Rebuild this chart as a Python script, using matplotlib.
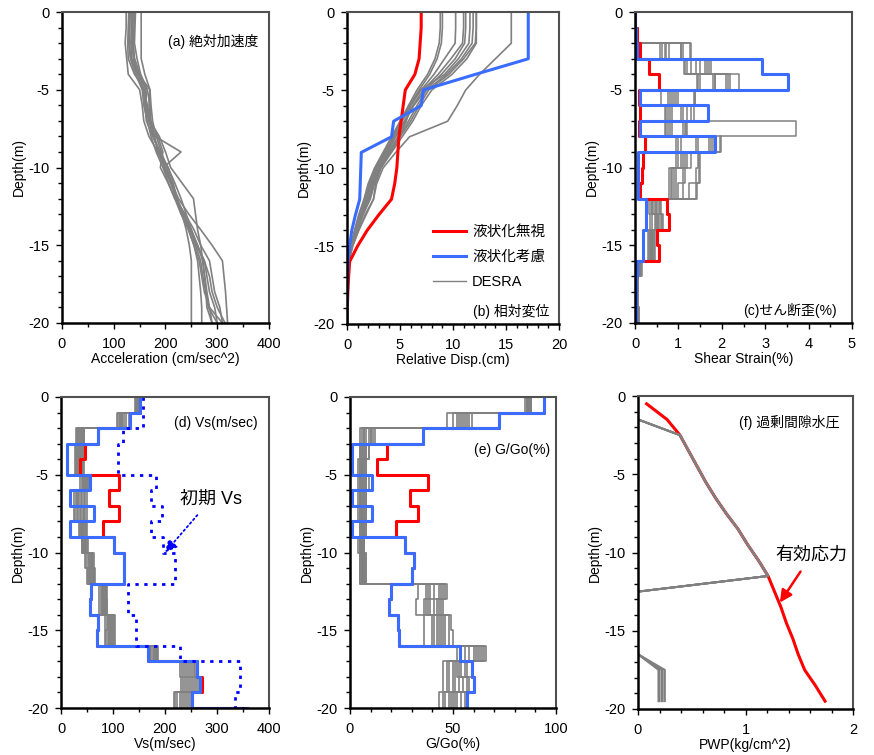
import numpy as np
import matplotlib
matplotlib.use('Agg')
import matplotlib.pyplot as plt
from matplotlib.ticker import MultipleLocator

plt.rcParams['font.family'] = ['Liberation Sans', 'Noto Sans CJK JP']
plt.rcParams['axes.unicode_minus'] = False

GRAY = '#808080'
RED = '#ff0000'
BLUE = '#3a6cff'

# depth nodes (m), 1 m layers
depth_nodes = [0, -1, -2, -3, -4, -5, -6, -7, -8, -9, -10, -11, -12, -13, -14, -15, -16, -17, -18, -19, -20]

# (a) absolute acceleration, DESRA runs (cm/sec^2) at depth_nodes
acc_desra = [
    [153, 153, 153, 153, 160, 170, 172, 175, 182, 192, 202, 212, 225, 245, 268, 290, 310, 313, 316, 318, 320],
    [124, 124, 122, 125, 128, 150, 155, 158, 168, 185, 198, 212, 222, 232, 240, 246, 250, 250, 250, 250, 250],
    [129, 128, 127, 128, 140, 160, 160, 163, 175, 190, 205, 215, 222, 232, 245, 255, 262, 265, 268, 270, 270],
    [132, 131, 130, 133, 145, 165, 160, 168, 180, 230, 196, 210, 222, 235, 250, 262, 272, 276, 280, 285, 290],
    [135, 134, 133, 135, 148, 170, 168, 170, 178, 188, 200, 212, 220, 232, 248, 262, 275, 280, 285, 295, 300],
    [138, 137, 136, 140, 150, 158, 165, 170, 185, 195, 190, 205, 218, 238, 255, 268, 285, 290, 295, 305, 310],
    [142, 141, 140, 145, 152, 165, 170, 172, 178, 185, 205, 218, 230, 240, 250, 260, 275, 285, 290, 300, 315],
    [140, 139, 138, 140, 150, 162, 163, 170, 188, 200, 210, 232, 254, 258, 262, 268, 272, 275, 278, 280, 290],
    [136, 136, 135, 138, 146, 156, 162, 168, 176, 188, 200, 210, 222, 236, 248, 258, 268, 272, 278, 283, 300],
    [130, 130, 129, 132, 142, 155, 158, 165, 172, 182, 195, 206, 218, 230, 244, 255, 265, 270, 275, 285, 310],
]

# (b) relative displacement (cm) at depth_nodes
disp_ignore = [7.0, 7.0, 6.9, 6.8, 6.4, 5.5, 5.3, 5.1, 4.9, 4.8, 4.7, 4.5, 4.2, 3.0, 1.9, 1.0, 0.25, 0.15, 0.08, 0.03, 0]
disp_liq = [17.1, 17.1, 17.1, 17.1, 12.1, 7.2, 7.0, 4.4, 4.2, 1.35, 1.3, 1.25, 1.2, 0.8, 0.45, 0.25, 0.1, 0.05, 0.02, 0, 0]
disp_desra = [
    [8.8, 8.8, 8.7, 8.3, 7.6, 6.6, 5.8, 5.0, 4.2, 3.4, 2.6, 2.0, 1.6, 1.1, 0.7, 0.35, 0.1, 0.03, 0.01, 0, 0],
    [9.0, 9.0, 8.9, 8.5, 7.8, 6.8, 5.9, 5.1, 4.3, 3.5, 2.7, 2.1, 1.7, 1.2, 0.75, 0.4, 0.12, 0.04, 0.01, 0, 0],
    [10.25, 10.25, 10.2, 9.2, 8.2, 7.0, 6.0, 5.2, 4.4, 3.6, 2.8, 2.2, 1.8, 1.2, 0.8, 0.4, 0.12, 0.04, 0.01, 0, 0],
    [11.0, 11.0, 10.9, 9.8, 8.6, 7.2, 6.2, 5.4, 4.5, 3.7, 2.9, 2.3, 1.9, 1.3, 0.85, 0.42, 0.13, 0.04, 0.01, 0, 0],
    [11.2, 11.2, 11.1, 10.2, 8.9, 7.4, 6.3, 5.5, 4.6, 3.8, 3.0, 2.4, 2.0, 1.4, 0.9, 0.45, 0.14, 0.04, 0.01, 0, 0],
    [11.6, 11.6, 11.5, 10.5, 9.2, 6.9, 6.0, 5.6, 4.8, 3.9, 3.1, 2.5, 2.1, 1.4, 0.9, 0.45, 0.14, 0.04, 0.01, 0, 0],
    [11.9, 11.9, 11.8, 10.8, 9.4, 7.5, 6.6, 5.8, 4.9, 4.0, 3.1, 2.5, 2.1, 1.5, 0.95, 0.48, 0.15, 0.05, 0.01, 0, 0],
    [12.2, 12.2, 12.1, 11.0, 9.6, 7.7, 6.8, 6.0, 5.0, 4.1, 3.2, 2.6, 2.2, 1.5, 1.0, 0.5, 0.15, 0.05, 0.01, 0, 0],
    [12.2, 12.2, 12.2, 11.3, 9.9, 8.0, 7.0, 6.2, 5.2, 4.2, 3.2, 2.7, 2.5, 1.7, 1.1, 0.55, 0.16, 0.05, 0.01, 0, 0],
    [15.5, 15.5, 15.5, 14.0, 12.5, 11.2, 10.4, 9.5, 5.9, 4.6, 3.4, 2.8, 2.5, 1.8, 1.1, 0.5, 0.15, 0.05, 0.01, 0, 0],
]

# (c) shear strain (%) per layer (0-1 m ... 19-20 m)
strain_ignore = [0.01, 0.05, 0.12, 0.32, 0.55, 0.10, 0.12, 0.10, 0.24, 0.18, 0.15, 0.12, 0.74, 0.78, 0.51, 0.55, 0.05, 0.03, 0.02, 0.01]
strain_liq = [0.01, 0.02, 0.05, 2.92, 3.53, 0.12, 1.69, 0.12, 1.84, 0.08, 0.06, 0.08, 0.25, 0.25, 0.18, 0.18, 0.05, 0.02, 0.02, 0.02]
strain_desra = [
    [0.01, 0.05, 0.57, 1.12, 1.42, 0.59, 0.68, 0.68, 0.95, 0.95, 0.78, 0.78, 0.32, 0.35, 0.30, 0.30, 0.06, 0.03, 0.02, 0.03],
    [0.01, 0.05, 0.62, 1.15, 1.45, 0.75, 0.72, 0.72, 1.00, 1.00, 0.82, 0.82, 0.36, 0.40, 0.33, 0.33, 0.07, 0.04, 0.03, 0.04],
    [0.01, 0.06, 0.68, 1.20, 1.50, 0.80, 0.75, 0.75, 1.05, 1.05, 0.85, 0.85, 0.40, 0.45, 0.35, 0.35, 0.08, 0.04, 0.03, 0.05],
    [0.02, 0.06, 0.72, 1.30, 1.80, 0.85, 0.80, 0.80, 1.40, 1.10, 0.90, 0.90, 0.42, 0.48, 0.37, 0.37, 0.09, 0.05, 0.04, 0.05],
    [0.02, 0.06, 0.78, 1.40, 1.85, 0.90, 0.85, 0.85, 1.45, 1.15, 0.95, 0.95, 0.45, 0.50, 0.38, 0.38, 0.10, 0.05, 0.04, 0.06],
    [0.02, 0.07, 1.05, 1.50, 1.85, 0.95, 1.05, 1.10, 1.70, 1.20, 1.10, 1.00, 0.48, 0.52, 0.40, 0.40, 0.10, 0.06, 0.05, 0.06],
    [0.02, 0.07, 1.05, 1.62, 2.10, 1.00, 1.10, 1.15, 1.75, 1.30, 1.15, 1.10, 0.50, 0.55, 0.40, 0.40, 0.11, 0.06, 0.05, 0.07],
    [0.02, 0.07, 1.10, 1.65, 2.15, 1.35, 1.30, 1.20, 1.80, 1.45, 1.40, 1.25, 0.55, 0.60, 0.42, 0.42, 0.12, 0.07, 0.05, 0.08],
    [0.02, 0.08, 1.28, 1.70, 2.20, 1.38, 1.36, 3.72, 1.95, 1.49, 1.50, 1.42, 0.60, 0.65, 0.45, 0.45, 0.14, 0.08, 0.06, 0.10],
    [0.02, 0.08, 1.27, 1.76, 2.39, 1.38, 1.20, 1.18, 1.99, 1.47, 1.48, 1.40, 0.58, 0.62, 0.44, 0.44, 0.15, 0.08, 0.06, 0.09],
]

# (d) Vs (m/sec) per layer, vs_base = value below -20 m
vs_initial = [157, 157, 120, 110, 110, 183, 173, 195, 173, 197, 220, 220, 128, 128, 144, 144, 229, 345, 345, 335]
vs_ignore = [151, 133, 72, 47, 37, 111, 92, 111, 81, 101, 122, 122, 58, 56, 72, 70, 167, 262, 271, 252]
vs_liq = [151, 133, 72, 12, 12, 56, 18, 63, 18, 101, 122, 122, 58, 56, 72, 70, 167, 262, 268, 252]
vs_base = 358
vs_desra = [
    [143, 108, 28, 26, 26, 37, 25, 25, 35, 40, 47, 50, 74, 74, 85, 85, 170, 228, 230, 217],
    [144, 110, 30, 28, 29, 40, 28, 27, 37, 41, 49, 52, 76, 77, 88, 87, 172, 232, 235, 220],
    [145, 113, 32, 30, 31, 42, 30, 31, 38, 42, 51, 54, 78, 78, 90, 91, 174, 236, 238, 224],
    [146, 114, 34, 33, 32, 44, 33, 32, 40, 43, 53, 56, 80, 81, 92, 92, 176, 240, 243, 228],
    [146, 117, 36, 34, 35, 46, 35, 36, 41, 44, 55, 58, 81, 82, 94, 95, 178, 244, 246, 232],
    [147, 118, 38, 36, 36, 48, 38, 38, 43, 46, 57, 60, 83, 83, 96, 96, 180, 248, 250, 236],
    [147, 121, 40, 39, 38, 50, 41, 42, 45, 47, 59, 62, 84, 85, 98, 99, 182, 252, 254, 240],
    [148, 125, 42, 40, 41, 52, 44, 44, 47, 48, 60, 63, 86, 86, 100, 100, 184, 255, 258, 244],
    [148, 130, 44, 43, 42, 54, 47, 47, 48, 50, 62, 64, 87, 88, 102, 102, 185, 258, 262, 248],
    [149, 133, 45, 45, 45, 56, 50, 50, 50, 51, 63, 65, 88, 88, 104, 104, 186, 261, 265, 252],
]

# (e) G/Go (%) per layer
g_ignore = [94.3, 72.3, 35.6, 18.1, 13.0, 37.7, 29.0, 33.2, 22.2, 26.7, 31.0, 30.0, 20.0, 19.0, 23.5, 24.0, 53.4, 59.0, 60.4, 56.6]
g_liq = [94.3, 72.3, 35.6, 1.1, 1.1, 10.5, 1.1, 10.5, 1.1, 26.7, 31.0, 30.0, 20.0, 19.0, 23.5, 24.0, 53.4, 59.0, 60.4, 56.6]
g_desra = [
    [85, 47, 5, 5, 4, 4, 4, 4, 5, 4, 5, 5, 33, 32, 36, 36, 52, 45, 45, 43],
    [86, 50, 6, 5, 5, 5, 5, 5, 5, 5, 5, 5, 37, 36, 40, 40, 56, 47, 47, 45],
    [86, 52, 7, 6, 5, 5, 5, 5, 6, 5, 6, 6, 38, 37, 41, 41, 58, 48, 48, 46],
    [86, 53, 7, 6, 6, 6, 5, 6, 6, 5, 6, 6, 39, 38, 42, 42, 60, 50, 50, 48],
    [87, 54, 8, 7, 6, 6, 6, 6, 6, 6, 6, 6, 41, 39, 43, 43, 61, 51, 51, 49],
    [87, 55, 9, 7, 6, 7, 6, 6, 7, 6, 7, 7, 43, 41, 44, 44, 62, 52, 53, 50],
    [87, 56, 10, 8, 7, 7, 7, 7, 7, 6, 7, 7, 44, 42, 45, 45, 63, 53, 55, 51],
    [88, 57, 10, 8, 7, 8, 7, 7, 7, 7, 7, 7, 45, 43, 46, 46, 64, 54, 57, 52],
    [88, 58, 11, 9, 8, 8, 8, 8, 8, 7, 8, 8, 46, 44, 48, 48, 65, 56, 58, 54],
    [88, 59, 12, 9, 8, 9, 8, 8, 8, 7, 8, 8, 47, 45, 49, 50, 66, 57, 60, 56],
]

# (f) pore water pressure / effective stress (kg/cm^2) at layer mid depths
mid_depths = [-0.5, -1.5, -2.5, -3.5, -4.5, -5.5, -6.5, -7.5, -8.5, -9.5, -10.5, -11.5, -12.5, -13.5, -14.5, -15.5, -16.5, -17.5, -18.5, -19.5]
eff_stress = [0.08, 0.27, 0.39, 0.47, 0.55, 0.63, 0.72, 0.82, 0.93, 1.02, 1.12, 1.21, 1.27, 1.33, 1.38, 1.44, 1.49, 1.55, 1.65, 1.74]
pwp_desra = [
    [0, 0, 0.39, 0.47, 0.55, 0.63, 0.72, 0.82, 0.93, 1.02, 1.12, 1.21, 0, 0, 0, 0, 0, 0.19, 0.19, 0.19],
    [0, 0, 0.39, 0.47, 0.55, 0.63, 0.72, 0.82, 0.93, 1.02, 1.12, 1.21, 0, 0, 0, 0, 0, 0.20, 0.20, 0.20],
    [0, 0, 0.39, 0.47, 0.55, 0.63, 0.72, 0.82, 0.93, 1.02, 1.12, 1.21, 0, 0, 0, 0, 0, 0.22, 0.22, 0.22],
    [0, 0, 0.39, 0.47, 0.55, 0.63, 0.72, 0.82, 0.93, 1.02, 1.12, 1.21, 0, 0, 0, 0, 0, 0.23, 0.23, 0.23],
    [0, 0, 0.39, 0.47, 0.55, 0.63, 0.72, 0.82, 0.93, 1.02, 1.12, 1.21, 0, 0, 0, 0, 0, 0.25, 0.25, 0.25],
]


def step_xy(vals, base=None):
    tops = np.array(depth_nodes[:-1])
    bots = np.array(depth_nodes[1:])
    y = np.column_stack([tops, bots]).ravel()
    x = np.repeat(vals, 2).astype(float)
    if base is not None:
        x = np.append(x, base)
        y = np.append(y, depth_nodes[-1])
    return x, y


W, H = 874, 755
fig = plt.figure(figsize=(W / 100, H / 100), dpi=100)


def make_ax(l, r, t, b, xmax, xmajor, xminor, xlabel):
    ax = fig.add_axes([l / W, 1 - b / H, (r - l) / W, (b - t) / H])
    ax.set_xlim(0, xmax)
    ax.set_ylim(-20, 0)
    ax.xaxis.set_major_locator(MultipleLocator(xmajor))
    ax.xaxis.set_minor_locator(MultipleLocator(xminor))
    ax.yaxis.set_major_locator(MultipleLocator(5))
    ax.yaxis.set_minor_locator(MultipleLocator(1))
    ax.tick_params(which='both', direction='out', width=1, labelsize=10.5)
    ax.tick_params(which='major', length=4)
    ax.tick_params(which='minor', length=3)
    ax.tick_params(axis='x', pad=6)
    ax.tick_params(axis='y', pad=5)
    for s in ['left', 'bottom']:
        ax.spines[s].set_linewidth(1.8)
        ax.spines[s].set_color('black')
    for s in ['top', 'right']:
        ax.spines[s].set_linewidth(1.5)
        ax.spines[s].set_color('#505050')
    ax.set_xlabel(xlabel, fontsize=10, labelpad=1)
    ax.set_ylabel('Depth(m)', fontsize=10, labelpad=2)
    return ax


# (a)
ax = make_ax(62, 269, 12, 323, 400, 100, 50, 'Acceleration (cm/sec^2)')
for row in acc_desra:
    ax.plot(row, depth_nodes, color=GRAY, lw=1.2)
ax.text(379, -1.9, '(a) 絶対加速度', ha='right', va='center', fontsize=10)

# (b)
ax = make_ax(347, 559, 12, 324, 20, 5, 1, 'Relative Disp.(cm)')
for row in disp_desra:
    ax.plot(row, depth_nodes, color=GRAY, lw=1.2)
ax.plot(disp_ignore, depth_nodes, color=RED, lw=2.2)
ax.plot(disp_liq, depth_nodes, color=BLUE, lw=2.2)
h1, = ax.plot([], [], color=RED, lw=2.2)
h2, = ax.plot([], [], color=BLUE, lw=2.2)
h3, = ax.plot([], [], color=GRAY, lw=1.0)
ax.legend([h1, h2, h3], ['液状化無視', '液状化考慮', 'DESRA'], loc='lower right',
          bbox_to_anchor=(0.97, 0.09), frameon=False, fontsize=10.5,
          handlelength=2.3, handletextpad=0.4, labelspacing=0.75, borderpad=0)
ax.text(19.1, -19.2, '(b) 相対変位', ha='right', va='center', fontsize=10)

# (c)
ax = make_ax(635, 852, 12, 323, 5, 1, 0.5, 'Shear Strain(%)')
for row in strain_desra:
    x, y = step_xy(row)
    ax.plot(x, y, color=GRAY, lw=1.1)
x, y = step_xy(strain_ignore)
ax.plot(x, y, color=RED, lw=2.2)
x, y = step_xy(strain_liq)
ax.plot(x, y, color=BLUE, lw=2.2)
ax.text(4.65, -19.2, '(c)せん断歪(%)', ha='right', va='center', fontsize=10)

# (d)
ax = make_ax(61, 269, 397, 708, 400, 100, 50, 'Vs(m/sec)')
for row in vs_desra:
    x, y = step_xy(row)
    ax.plot(x, y, color=GRAY, lw=1.2)
x, y = step_xy(vs_ignore, vs_base)
ax.plot(x, y, color=RED, lw=2.2)
x, y = step_xy(vs_liq, vs_base)
ax.plot(x, y, color=BLUE, lw=2.2)
x, y = step_xy(vs_initial, vs_base)
ax.plot(x, y, color='#0000ff', lw=2, ls=(0, (1.2, 2)))
ax.text(379, -1.7, '(d) Vs(m/sec)', ha='right', va='center', fontsize=10)
ax.annotate('初期 Vs', xy=(200, -10), xytext=(288, -6.6), ha='center', va='center',
            fontsize=13,
            arrowprops=dict(arrowstyle='-|>', color='#0000ff', lw=1.3, ls=':',
                            mutation_scale=18, shrinkA=4, shrinkB=0))

# (e)
ax = make_ax(350, 556, 397, 708, 100, 50, 10, 'G/Go(%)')
for row in g_desra:
    x, y = step_xy(row)
    ax.plot(x, y, color=GRAY, lw=1.2)
x, y = step_xy(g_ignore)
ax.plot(x, y, color=RED, lw=2.2)
x, y = step_xy(g_liq)
ax.plot(x, y, color=BLUE, lw=2.2)
ax.text(97, -3.4, '(e) G/Go(%)', ha='right', va='center', fontsize=10)

# (f)
ax = make_ax(638, 853, 396, 709, 2, 1, 0.2, 'PWP(kg/cm^2)')
ax.plot(eff_stress, mid_depths, color=RED, lw=2.2)
for row in pwp_desra:
    ax.plot(row, mid_depths, color=GRAY, lw=1.4)
ax.text(1.87, -1.7, '(f) 過剰間隙水圧', ha='right', va='center', fontsize=10)
ax.annotate('有効応力', xy=(1.32, -13.2), xytext=(1.61, -10.2), ha='center', va='center',
            fontsize=13,
            arrowprops=dict(arrowstyle='-|>', color=RED, lw=1.8,
                            mutation_scale=18, shrinkA=4, shrinkB=0))

fig.savefig('out.png', dpi=100)
